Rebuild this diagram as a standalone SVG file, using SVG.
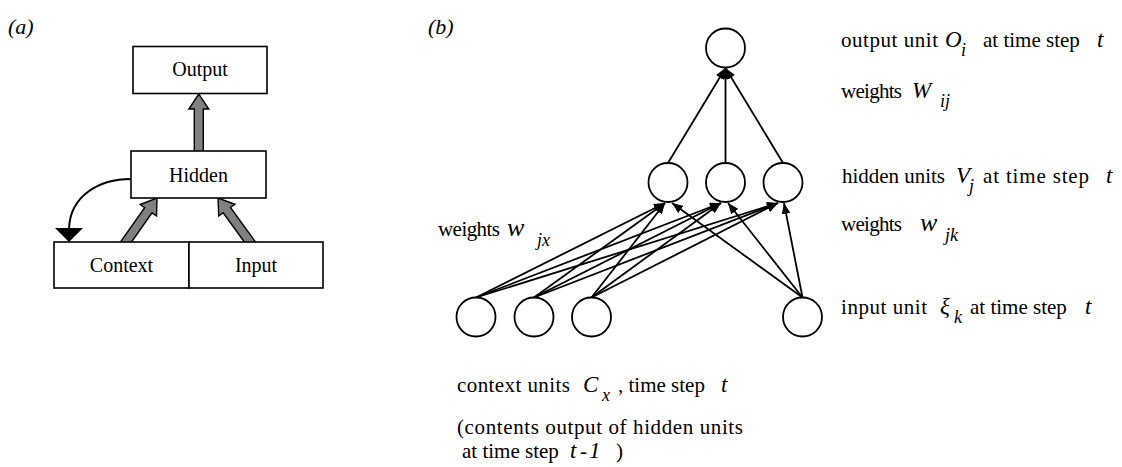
<svg xmlns="http://www.w3.org/2000/svg" width="1122" height="467" viewBox="0 0 1122 467">
<style>
text{font-family:"Liberation Serif","Times New Roman",serif;fill:#000}
.box{fill:#fff;stroke:#000;stroke-width:1.6}
.lbl{font-size:20px;text-anchor:middle}
.panel{font-size:22px;font-style:italic}
.fat{fill:#808080;stroke:#000;stroke-width:1.4;stroke-linejoin:miter}
.unit{fill:#fff;stroke:#000;stroke-width:1.8}
.w{stroke:#000;stroke-width:1.8;fill:none;marker-end:url(#ah)}
.t{font-size:21px}
.m{font-size:23px;font-style:italic}
.mw{font-size:26px;font-style:italic}
.s{font-size:18px;font-style:italic}
</style>
<defs>
<marker id="ah" markerUnits="userSpaceOnUse" markerWidth="11" markerHeight="9" refX="11" refY="4.5" orient="auto">
<path d="M0,0 L11,4.5 L0,9 z" fill="#000"/>
</marker>
</defs>
<rect width="1122" height="467" fill="#fff"/>

<!-- panel (a) -->
<text class="panel" x="8" y="34">(a)</text>
<g id="a-connectors">
<polygon class="fat" points="203.3,153 203.3,109 208.8,109 198.8,94 188.8,109 194.3,109 194.3,153"/>
<polygon class="fat" points="127.58,247.59 152.04,212.85 156.54,216.02 157,198 140.19,204.5 144.68,207.67 120.22,242.41"/>
<polygon class="fat" points="255.82,242.35 230.46,207.48 234.91,204.25 218,198 218.73,216.01 223.18,212.78 248.54,247.65"/>
<path d="M131,179 C100,179 70,195 69,229" fill="none" stroke="#000" stroke-width="2"/>
<polygon points="55,228 83,228 69,242" fill="#000"/>
</g>
<g id="a-output"><rect class="box" x="133" y="46.5" width="134" height="47"/><text class="lbl" x="200" y="76">Output</text></g>
<g id="a-hidden"><rect class="box" x="131" y="151" width="135" height="47"/><text class="lbl" x="198.5" y="182">Hidden</text></g>
<g id="a-context"><rect class="box" x="54" y="242" width="135" height="46"/><text class="lbl" x="121.5" y="272">Context</text></g>
<g id="a-input"><rect class="box" x="189" y="242" width="134" height="46"/><text class="lbl" x="256" y="272">Input</text></g>

<!-- panel (b) -->
<text class="panel" x="428" y="34">(b)</text>
<g id="b-connectors">
<line class="w" x1="668" y1="163" x2="725.5" y2="68"/>
<line class="w" x1="725.5" y1="163" x2="725.5" y2="68"/>
<line class="w" x1="783" y1="163" x2="725.5" y2="68"/>
<line class="w" x1="476" y1="297.5" x2="665" y2="203"/>
<line class="w" x1="476" y1="297.5" x2="721" y2="203"/>
<line class="w" x1="476" y1="297.5" x2="778" y2="203"/>
<line class="w" x1="534" y1="297.5" x2="665" y2="203"/>
<line class="w" x1="534" y1="297.5" x2="721" y2="203"/>
<line class="w" x1="534" y1="297.5" x2="778" y2="203"/>
<line class="w" x1="591.5" y1="297.5" x2="665" y2="203"/>
<line class="w" x1="591.5" y1="297.5" x2="721" y2="203"/>
<line class="w" x1="591.5" y1="297.5" x2="778" y2="203"/>
<line class="w" x1="802.5" y1="297.5" x2="672" y2="203"/>
<line class="w" x1="802.5" y1="297.5" x2="728" y2="203"/>
<line class="w" x1="802.5" y1="297.5" x2="784" y2="203"/>
</g>
<g id="b-output"><circle class="unit" cx="725.5" cy="48" r="19.5"/></g>
<g id="b-hidden1"><circle class="unit" cx="668" cy="182.5" r="19.5"/></g>
<g id="b-hidden2"><circle class="unit" cx="725.5" cy="182.5" r="19.5"/></g>
<g id="b-hidden3"><circle class="unit" cx="783" cy="182.5" r="19.5"/></g>
<g id="b-context1"><circle class="unit" cx="476" cy="317" r="19.5"/></g>
<g id="b-context2"><circle class="unit" cx="534" cy="317" r="19.5"/></g>
<g id="b-context3"><circle class="unit" cx="591.5" cy="317" r="19.5"/></g>
<g id="b-input"><circle class="unit" cx="802.5" cy="317" r="19.5"/></g>

<g id="b-labels">
<text class="t" x="841" y="47" textLength="97">output unit</text>
<text class="m" x="945" y="47">O</text>
<text class="s" x="961" y="56">i</text>
<text class="t" x="983" y="47">at time step</text>
<text class="m" x="1097" y="47">t</text>

<text class="t" x="841" y="98" textLength="61">weights</text>
<text class="m" x="912" y="98">W</text>
<text class="s" x="940" y="107">ij</text>

<text class="t" x="842" y="183" textLength="103">hidden units</text>
<text class="m" x="956" y="183">V</text>
<text class="s" x="969" y="192">j</text>
<text class="t" x="983" y="183" textLength="106">at time step</text>
<text class="m" x="1106" y="183">t</text>

<text class="t" x="841" y="231" textLength="61">weights</text>
<text class="mw" x="920" y="231">w</text>
<text class="s" x="945" y="241">jk</text>

<text class="t" x="841" y="314" textLength="86">input unit</text>
<text class="m" x="940" y="314">ξ</text>
<text class="s" x="954" y="323">k</text>
<text class="t" x="970" y="314">at time step</text>
<text class="m" x="1085" y="314">t</text>

<text class="t" x="438" y="236" textLength="62">weights</text>
<text class="mw" x="507" y="236">w</text>
<text class="s" x="537" y="246">jx</text>

<text class="t" x="457" y="392" textLength="113">context units</text>
<text class="m" x="583" y="392">C</text>
<text class="s" x="602" y="401">x</text>
<text class="t" x="618" y="392">, time step</text>
<text class="m" x="721" y="392">t</text>

<text class="t" x="457" y="434" textLength="286">(contents output of hidden units</text>

<text class="t" x="462" y="458">at time step</text>
<text class="m" x="570" y="458">t</text>
<text class="t" x="580" y="458">-</text>
<text class="m" x="589" y="458">1</text>
<text class="t" x="616" y="458">)</text>
</g>
</svg>
